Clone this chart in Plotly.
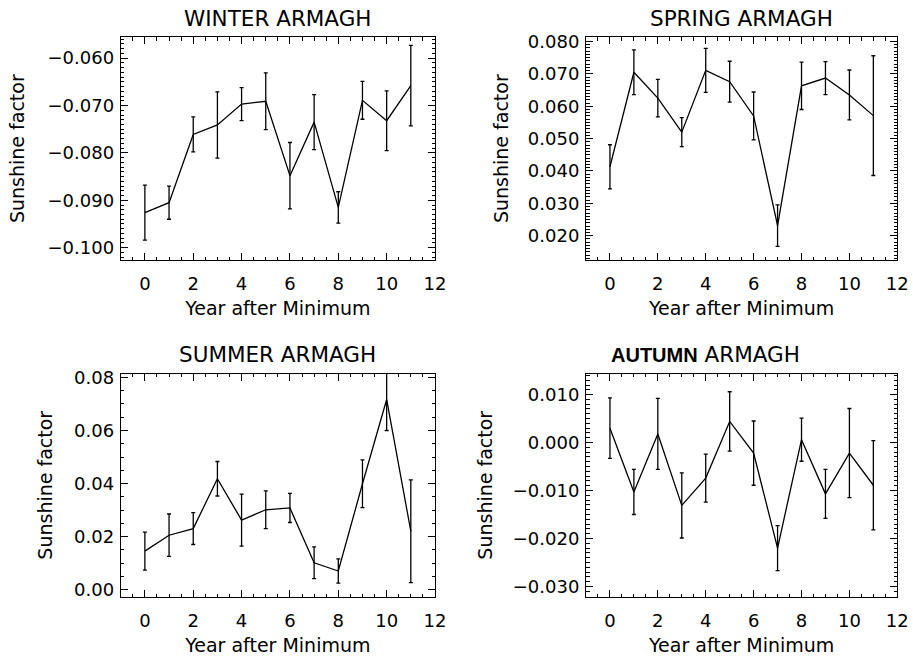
import plotly.graph_objects as go

years = list(range(12))

winter = [-0.0926, -0.0905, -0.0761, -0.0741, -0.0697, -0.0691, -0.0848, -0.0735, -0.0915, -0.0689, -0.0732, -0.0658]
winter_err = [0.0058, 0.0035, 0.0037, 0.0070, 0.0035, 0.0060, 0.0070, 0.0058, 0.0033, 0.0040, 0.0063, 0.0085]

spring = [0.0413, 0.0705, 0.0625, 0.0520, 0.0711, 0.0676, 0.0570, 0.0231, 0.0663, 0.0687, 0.0635, 0.0571]
spring_err = [0.0068, 0.0069, 0.0058, 0.0045, 0.0068, 0.0063, 0.0074, 0.0064, 0.0073, 0.0051, 0.0077, 0.0185]

summer = [0.0145, 0.0205, 0.0230, 0.0418, 0.0262, 0.0301, 0.0308, 0.0101, 0.0070, 0.0399, 0.0717, 0.0220]
summer_err = [0.0072, 0.0080, 0.0060, 0.0065, 0.0098, 0.0071, 0.0055, 0.0060, 0.0046, 0.0090, 0.0117, 0.0194]

autumn = [0.0030, -0.0103, 0.0018, -0.0131, -0.0074, 0.0044, -0.0022, -0.0220, 0.0006, -0.0107, -0.0022, -0.0089]
autumn_err = [0.0063, 0.0047, 0.0074, 0.0068, 0.0050, 0.0062, 0.0067, 0.0047, 0.0045, 0.0051, 0.0093, 0.0093]

titles = ["WINTER ARMAGH", "SPRING ARMAGH", "SUMMER ARMAGH",
          "<span style='font-family:Liberation Sans;font-size:20px'><b>AUTUMN</b></span> ARMAGH"]
x_title = "Year after Minimum"
y_title = "Sunshine factor"

W, H = 913, 658
FONT = "DejaVu Sans"


def px(X):
    return X / W


def py(Y):
    return 1 - Y / H


panels = [
    dict(y=winter, e=winter_err, rng=[-0.1026, -0.0556], dt=0.01, mdt=0.001, fmt=".3f",
         box=(120.7, 435.0, 37.3, 260.0), ys=17, tx=None),
    dict(y=spring, e=spring_err, rng=[0.0125, 0.0813], dt=0.01, mdt=0.001, fmt=".3f",
         box=(586.0, 897.3, 37.3, 260.0), ys=14, tx=None),
    dict(y=summer, e=summer_err, rng=[-0.0028, 0.0815], dt=0.02, mdt=0.005, fmt=".2f",
         box=(120.7, 435.0, 373.5, 597.0), ys=16, tx=None),
    dict(y=autumn, e=autumn_err, rng=[-0.0322, 0.0144], dt=0.01, mdt=0.001, fmt=".3f",
         box=(586.0, 897.3, 373.5, 597.0), ys=15, tx=609),
]

fig = go.Figure()
layout = dict(
    template="none",
    width=W, height=H, margin=dict(l=0, r=0, t=0, b=0, pad=0), autosize=False,
    paper_bgcolor="white", plot_bgcolor="white", showlegend=False,
    font=dict(family=FONT, size=18, color="black"),
)
annotations = []

for i, p in enumerate(panels):
    n = "" if i == 0 else str(i + 1)
    x0, x1, y0, y1 = p["box"]
    fig.add_trace(go.Scatter(
        x=years, y=p["y"], mode="lines",
        line=dict(color="black", width=1.3),
        error_y=dict(type="data", array=p["e"], visible=True, color="black",
                     thickness=1.3, width=2),
        xaxis="x" + n, yaxis="y" + n,
    ))
    common = dict(showline=True, linecolor="black", linewidth=1, mirror="allticks",
                  ticks="inside", tickcolor="black", showgrid=False, zeroline=False,
                  automargin=False)
    layout["xaxis" + n] = dict(
        common, domain=[px(x0), px(x1)], anchor="y" + n, range=[-1, 12],
        tick0=0, dtick=2, ticklen=7, tickwidth=1, ticklabelstandoff=7,
        tickfont=dict(size=18, family=FONT),
        minor=dict(ticks="inside", dtick=0.5, tick0=0, ticklen=3.5, tickcolor="black"),
        title=dict(text=x_title, font=dict(size=19, family=FONT), standoff=9),
    )
    layout["yaxis" + n] = dict(
        common, domain=[py(y1), py(y0)], anchor="x" + n, range=p["rng"],
        tick0=0, dtick=p["dt"], ticklen=7, tickwidth=1, tickformat=p["fmt"],
        ticklabelstandoff=2, tickfont=dict(size=18, family=FONT),
        minor=dict(ticks="inside", dtick=p["mdt"], tick0=0, ticklen=3.5, tickcolor="black"),
        title=dict(text=y_title, font=dict(size=19, family=FONT), standoff=p["ys"]),
    )
    if p["tx"] is None:
        ax, anchor = px((x0 + x1) / 2), "center"
    else:
        ax, anchor = px(p["tx"]), "left"
    annotations.append(dict(
        text=titles[i], xref="paper", yref="paper",
        x=ax, y=py(y0 - 19), xanchor=anchor, yanchor="middle",
        showarrow=False, font=dict(size=21.5, family=FONT, color="black"),
    ))

layout["annotations"] = annotations
fig.update_layout(**layout)
fig.write_html(
    "out.html",
    config={"displayModeBar": False},
    post_script="document.body.style.margin='0';"
                "document.body.style.overflow='hidden';"
                "document.documentElement.style.overflow='hidden';",
)
